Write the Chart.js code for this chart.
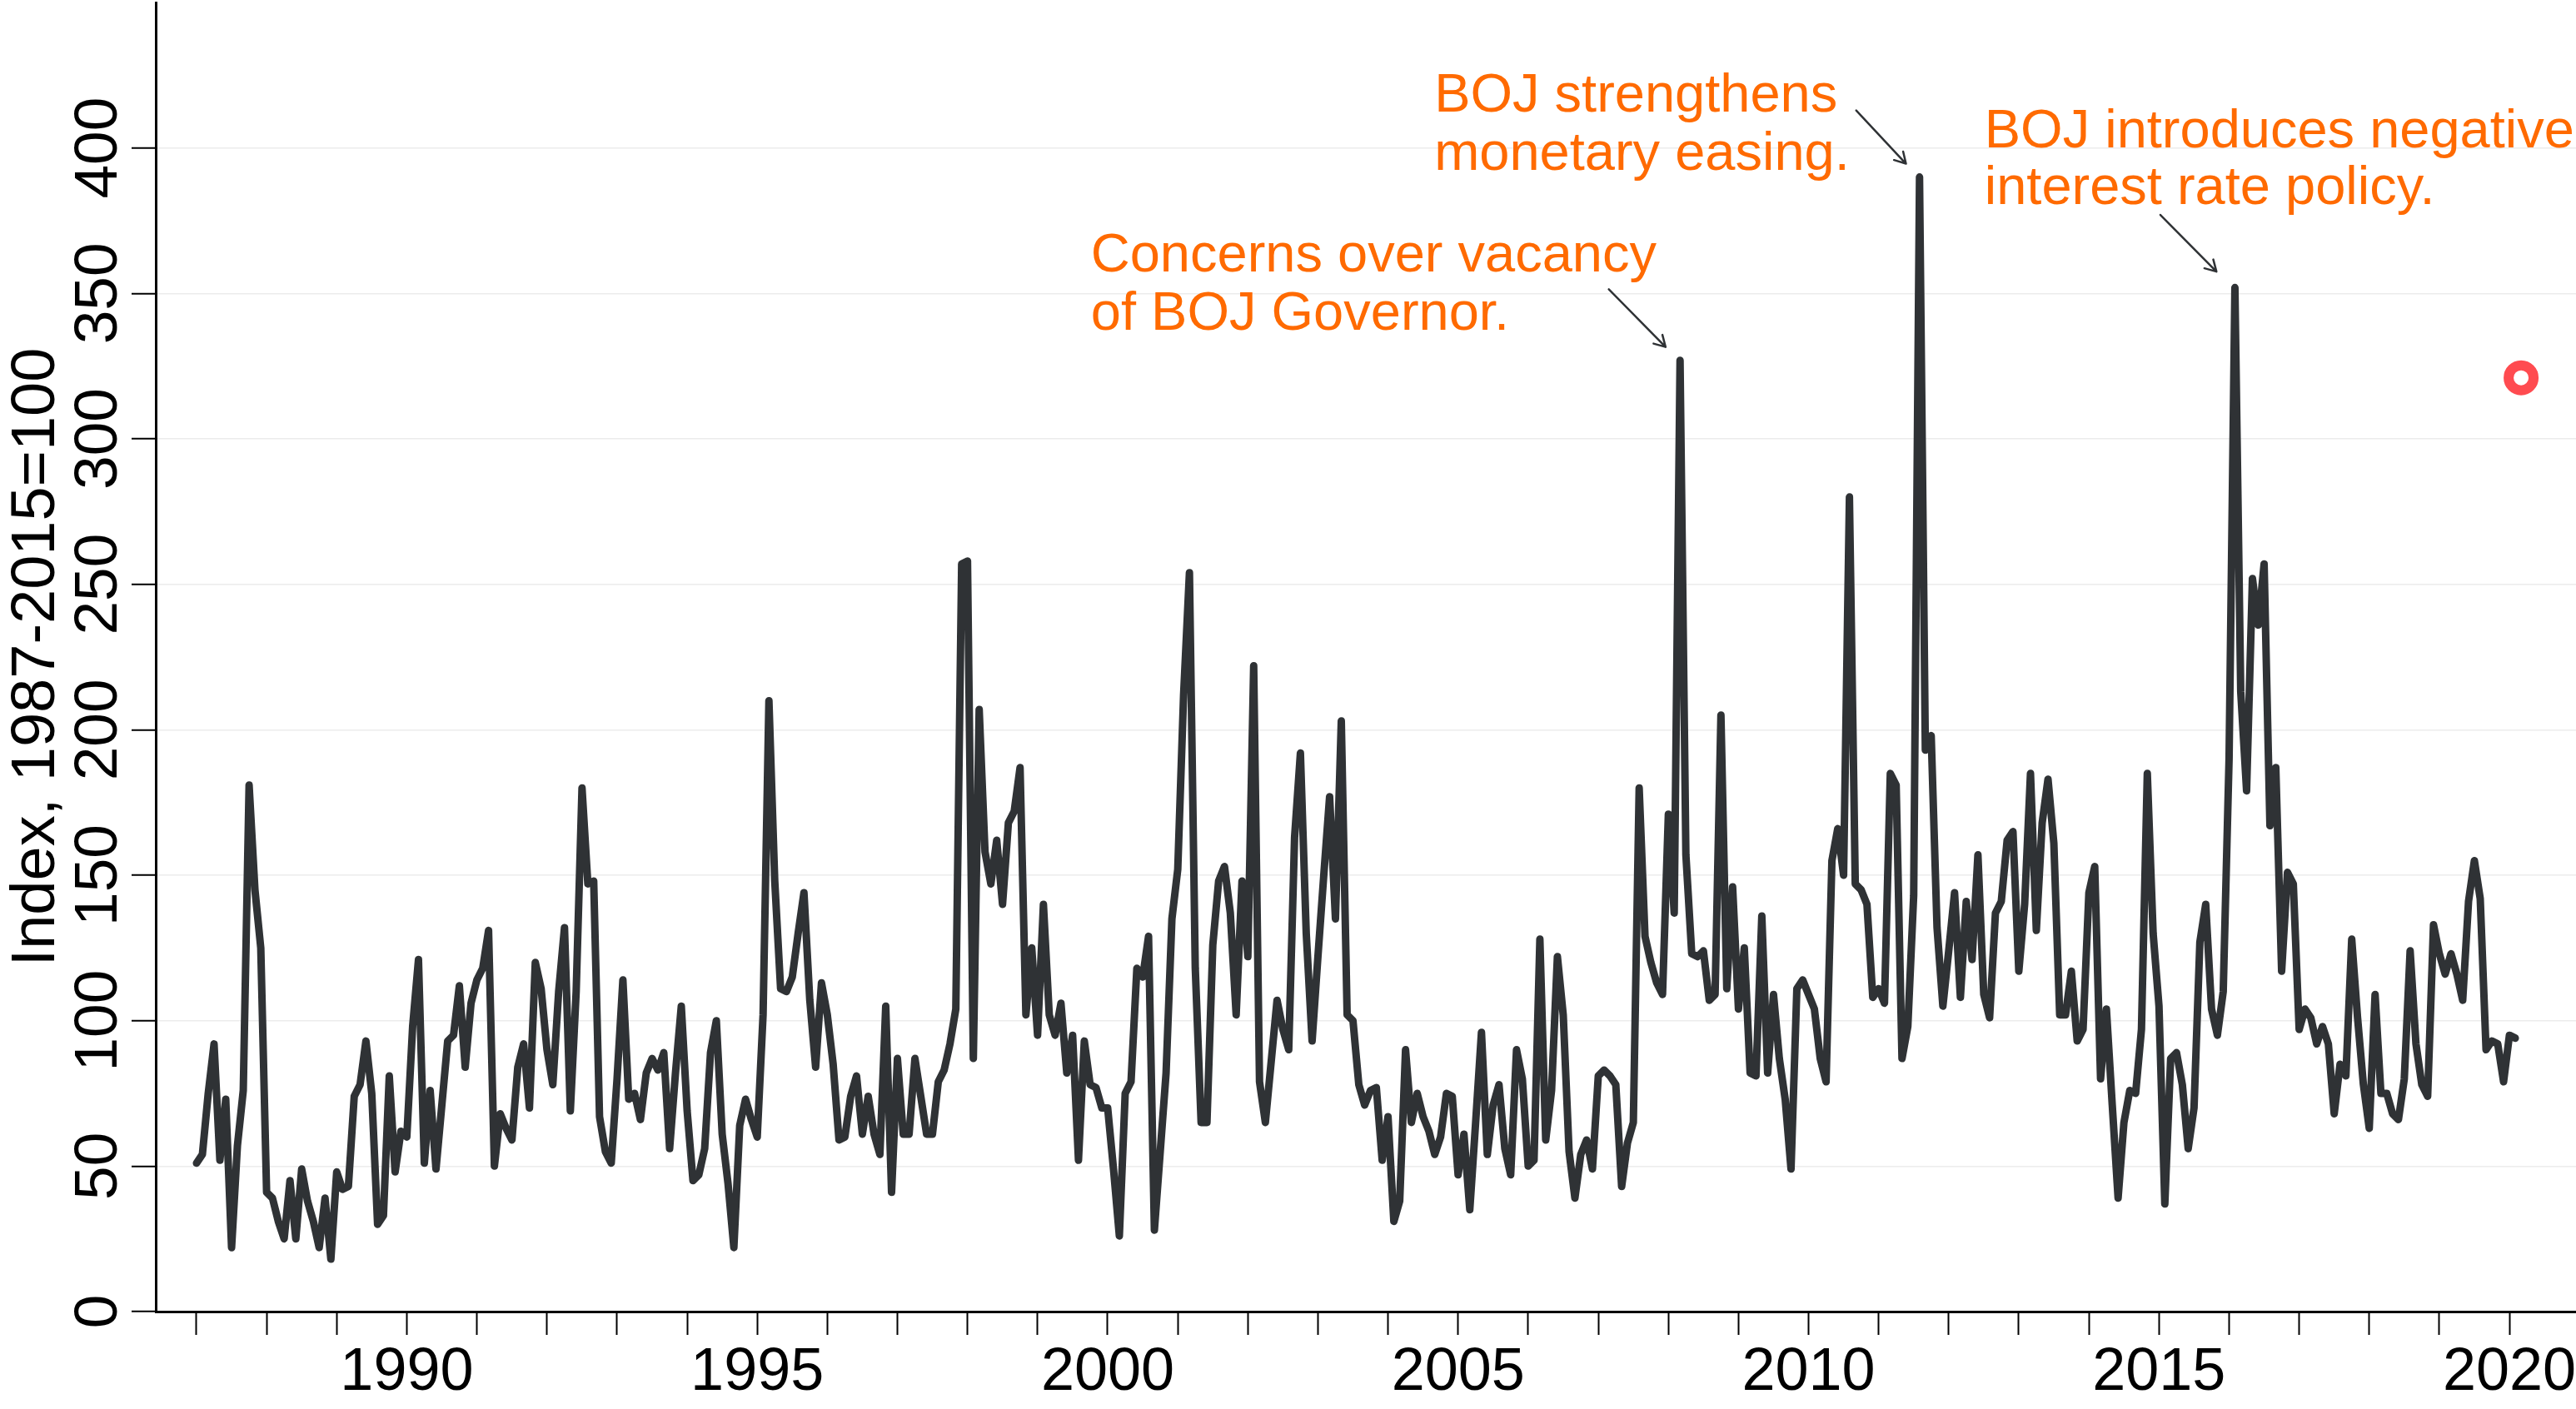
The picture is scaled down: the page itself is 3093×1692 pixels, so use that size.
<!DOCTYPE html>
<html>
<head>
<meta charset="utf-8">
<script src="https://cdn.jsdelivr.net/npm/chart.js@4.4.1/dist/chart.umd.min.js"></script>
<style>
  html, body { margin: 0; padding: 0; background: #ffffff; overflow: hidden; }
  #wrap { width: 3093px; height: 1692px; }
</style>
</head>
<body>
<div id="wrap"><canvas id="c" width="3093" height="1692"></canvas></div>
<script>
// ---------------- DATA ----------------
const START_YEAR = 1987;           // first observation: January 1987, monthly
const indexValues = [
  51,54,75,92,52,73,22,57,76,181,145,125,
  41,39,31,25,45,25,49,38,31,22,39,18,
  48,42,43,74,78,93,75,30,33,81,48,62,
  60,98,121,51,76,49,71,93,95,112,84,106,
  114,118,131,50,68,63,59,84,92,70,120,111,
  90,78,110,132,69,110,180,147,148,67,55,51,
  80,114,73,75,66,82,87,83,89,56,82,105,
  69,45,47,56,89,100,61,44,22,64,73,66,
  60,102,210,148,111,110,115,130,144,107,84,113,
  102,85,59,60,74,81,61,74,61,54,105,41,
  87,61,61,87,74,61,61,79,83,92,104,257,
  258,87,207,158,147,162,140,168,172,187,102,125,
  95,140,102,95,106,82,95,52,93,78,77,70,
  70,49,26,75,79,118,115,129,28,55,82,135,
  152,212,254,118,65,65,126,148,153,137,102,148,
  122,222,79,65,86,107,97,90,163,192,130,93,
  122,150,177,135,203,102,100,78,71,76,77,52,
  67,31,38,90,65,75,67,62,54,60,75,74,
  47,61,35,65,96,54,71,78,56,47,90,80,
  50,52,128,59,76,122,102,55,39,54,59,49,
  81,83,81,78,43,58,65,180,129,120,113,109,
  171,137,327,157,123,122,124,107,109,205,111,146,
  104,125,82,81,136,82,109,87,73,49,111,114,
  109,104,87,79,155,166,150,280,147,145,140,108,
  111,106,185,181,87,98,143,390,193,198,132,105,
  124,144,108,141,121,157,109,101,137,141,162,165,
  117,140,185,131,168,183,161,102,102,117,93,97,
  144,153,80,104,71,39,65,76,75,97,185,130,
  105,37,87,89,78,56,70,127,140,104,95,110,
  190,352,213,179,252,236,257,167,187,117,151,147,
  97,104,101,92,98,92,68,85,81,128,101,78,
  63,109,75,75,68,66,80,124,92,78,74,133,
  123,116,123,116,107,141,155,142,90,93,92,79,
  95,94
];
const latestPointMonth = [2020, 3];   // highlighted observation (year, month)
const latestPointValue = [321];
const yTickValues = [0, 50, 100, 150, 200, 250, 300, 350, 400];
const xTickYears = [];
for (let y = 1987; y <= 2020; y++) xTickYears.push(y);
const xLabelYears = [1990, 1995, 2000, 2005, 2010, 2015, 2020];
const yAxisTitle = 'Index, 1987-2015=100';
const annotationTexts = [
  ['Concerns over vacancy', 'of BOJ Governor.'],
  ['BOJ strengthens', 'monetary easing.'],
  ['BOJ introduces negative', 'interest rate policy.']
];

// ---------------- BUILD ----------------
const lineData = indexValues.map((v, i) => ({ x: START_YEAR + i / 12, y: v }));
const pointData = [{ x: latestPointMonth[0] + (latestPointMonth[1] - 1) / 12, y: latestPointValue[0] }];

// annotation placement in data units (x = decimal year, y = index value)
const annotationLayout = [
  { x: 1999.76, y: [357.4, 337.6], arrow: [2007.15, 351.4, 2007.96, 331.6] },
  { x: 2004.66, y: [412.4, 392.6], arrow: [2010.68, 412.9, 2011.39, 394.6] },
  { x: 2012.51, y: [400.3, 380.6], arrow: [2015.02, 377.0, 2015.82, 357.5] }
];

const FONT = "'Liberation Sans', Arial, sans-serif";
Chart.defaults.font.family = FONT;

const overlayPlugin = {
  id: 'overlay',
  afterDraw(chart) {
    const ctx = chart.ctx;
    const xs = chart.scales.x, ys = chart.scales.y;
    // rotated y tick labels
    ctx.save();
    ctx.fillStyle = '#000';
    ctx.font = '73px ' + FONT;
    ctx.textAlign = 'center';
    ctx.textBaseline = 'middle';
    ys.ticks.forEach(t => {
      const py = ys.getPixelForValue(t.value);
      ctx.save();
      ctx.translate(chart.chartArea.left - 67, py);
      ctx.rotate(-Math.PI / 2);
      ctx.fillText(String(t.value), 0, 0);
      ctx.restore();
    });
    ctx.restore();
    // annotations
    ctx.save();
    ctx.font = '65px ' + FONT;
    ctx.fillStyle = '#ff6a00';
    ctx.textAlign = 'left';
    ctx.textBaseline = 'alphabetic';
    annotationLayout.forEach((a, i) => {
      const px = xs.getPixelForValue(a.x);
      annotationTexts[i].forEach((line, j) => {
        ctx.fillText(line, px, ys.getPixelForValue(a.y[j]));
      });
      const x1 = xs.getPixelForValue(a.arrow[0]), y1 = ys.getPixelForValue(a.arrow[1]);
      const x2 = xs.getPixelForValue(a.arrow[2]), y2 = ys.getPixelForValue(a.arrow[3]);
      ctx.strokeStyle = '#2f3235';
      ctx.lineWidth = 2.5;
      ctx.lineCap = 'round';
      ctx.beginPath();
      ctx.moveTo(x1, y1); ctx.lineTo(x2, y2);
      const ang = Math.atan2(y2 - y1, x2 - x1);
      const hl = 15, spread = Math.PI / 6;
      ctx.moveTo(x2, y2);
      ctx.lineTo(x2 - hl * Math.cos(ang - spread), y2 - hl * Math.sin(ang - spread));
      ctx.moveTo(x2, y2);
      ctx.lineTo(x2 - hl * Math.cos(ang + spread), y2 - hl * Math.sin(ang + spread));
      ctx.stroke();
    });
    ctx.restore();
  }
};

new Chart(document.getElementById('c'), {
  type: 'line',
  data: {
    datasets: [
      {
        data: lineData,
        borderColor: '#2f3235',
        borderWidth: 9,
        pointRadius: 0,
        tension: 0,
        borderJoinStyle: 'round',
        borderCapStyle: 'round',
        fill: false
      },
      {
        data: pointData,
        showLine: false,
        pointRadius: 15,
        pointBorderWidth: 12,
        pointBorderColor: '#ff4b50',
        pointBackgroundColor: '#ffffff'
      }
    ]
  },
  options: {
    responsive: false,
    animation: false,
    devicePixelRatio: 1,
    layout: { autoPadding: false, padding: { left: 0, right: 0, top: 3, bottom: 0 } },
    plugins: { legend: { display: false }, tooltip: { enabled: false } },
    scales: {
      x: {
        type: 'linear',
        min: 1986.418,
        max: 2020.95,
        afterBuildTicks: s => { s.ticks = xTickYears.map(v => ({ value: v })); },
        afterFit: s => { s.height = 117; s.paddingLeft = 0; s.paddingRight = 0; },
        ticks: {
          autoSkip: false,
          maxRotation: 0,
          minRotation: 0,
          padding: 3,
          color: '#000',
          font: { size: 72, family: FONT },
          callback: v => (xLabelYears.includes(v) ? String(v) : '')
        },
        grid: {
          drawOnChartArea: false,
          drawTicks: true,
          tickLength: 28,
          tickColor: '#000',
          tickWidth: 2
        },
        border: { display: true, color: '#000', width: 3 }
      },
      y: {
        type: 'linear',
        min: 0,
        max: 450,
        afterBuildTicks: s => { s.ticks = yTickValues.map(v => ({ value: v })); },
        afterFit: s => { s.width = 187; s.paddingTop = 0; s.paddingBottom = 0; },
        ticks: { display: false },
        title: {
          display: true,
          text: yAxisTitle,
          color: '#000',
          font: { size: 74, family: FONT },
          padding: { top: 0, bottom: 0 }
        },
        grid: {
          color: '#ececec',
          lineWidth: 1.5,
          drawTicks: true,
          tickLength: 29,
          tickColor: '#000',
          tickWidth: 2
        },
        border: { display: true, color: '#000', width: 3 }
      }
    }
  },
  plugins: [overlayPlugin]
});
</script>
</body>
</html>
